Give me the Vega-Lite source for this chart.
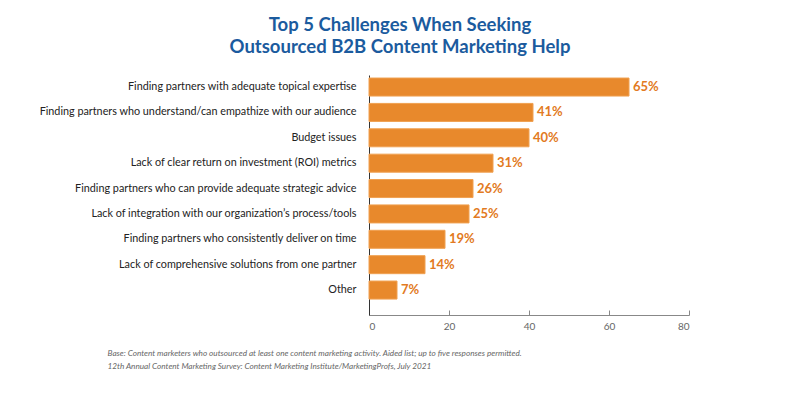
{
  "$schema": "https://vega.github.io/schema/vega-lite/v6.json",
  "autosize": {"type": "none"},
  "width": 320,
  "height": 240,
  "padding": {"left": 369, "top": 75, "right": 111, "bottom": 81},
  "background": "white",
  "title": {
    "text": ["Top 5 Challenges When Seeking", "Outsourced B2B Content Marketing Help"],
    "font": "Lato",
    "fontSize": 18.5,
    "fontWeight": "bold",
    "color": "#1b5b9e",
    "anchor": "middle",
    "dx": -129,
    "offset": 19,
    "lineHeight": 22
  },
  "data": {
    "values": [
      {"challenge": "Finding partners with adequate topical expertise", "pct": 65},
      {"challenge": "Finding partners who understand/can empathize with our audience", "pct": 41},
      {"challenge": "Budget issues", "pct": 40},
      {"challenge": "Lack of clear return on investment (ROI) metrics", "pct": 31},
      {"challenge": "Finding partners who can provide adequate strategic advice", "pct": 26},
      {"challenge": "Lack of integration with our organization’s process/tools", "pct": 25},
      {"challenge": "Finding partners who consistently deliver on time", "pct": 19},
      {"challenge": "Lack of comprehensive solutions from one partner", "pct": 14},
      {"challenge": "Other", "pct": 7}
    ]
  },
  "transform": [{"calculate": "datum.pct + '%'", "as": "label"}],
  "encoding": {
    "y": {
      "field": "challenge",
      "type": "nominal",
      "sort": null,
      "scale": {"paddingInner": 0.29, "paddingOuter": 0.374, "align": 0.16},
      "axis": {
        "title": null,
        "ticks": false,
        "domainColor": "#333333",
        "labelFont": "Lato",
        "labelFontSize": 10.8,
        "labelColor": "#222222",
        "labelPadding": 13,
        "labelLimit": 400
      }
    },
    "x": {
      "field": "pct",
      "type": "quantitative",
      "scale": {"domain": [0, 80]},
      "axis": {
        "values": [0, 20, 40, 60, 80],
        "grid": false,
        "tickSize": -5,
        "tickColor": "#888888",
        "domainColor": "#888888",
        "labelPadding": 11,
        "labelFont": "Lato",
        "labelFontSize": 10,
        "labelColor": "#666666",
        "title": ["Base: Content marketers who outsourced at least one content marketing activity. Aided list; up to five responses permitted.", "12th Annual Content Marketing Survey: Content Marketing Institute/MarketingProfs, July 2021"],
        "titleFont": "Lato",
        "titleFontSize": 8.2,
        "titleFontStyle": "italic",
        "titleFontWeight": "normal",
        "titleColor": "#666666",
        "titleAlign": "left",
        "titleAnchor": "start",
        "titleBaseline": "middle",
        "titleX": -262,
        "titleY": 38,
        "titleLineHeight": 13
      }
    }
  },
  "layer": [
    {
      "mark": {"type": "bar", "color": "#e8892c", "stroke": "#f0a050", "strokeWidth": 1}
    },
    {
      "mark": {"type": "text", "align": "left", "dx": 4, "font": "Lato", "fontSize": 13, "fontWeight": "bold", "color": "#e27a22"},
      "encoding": {"text": {"field": "label", "type": "nominal"}}
    }
  ],
  "config": {"view": {"stroke": null}}
}
